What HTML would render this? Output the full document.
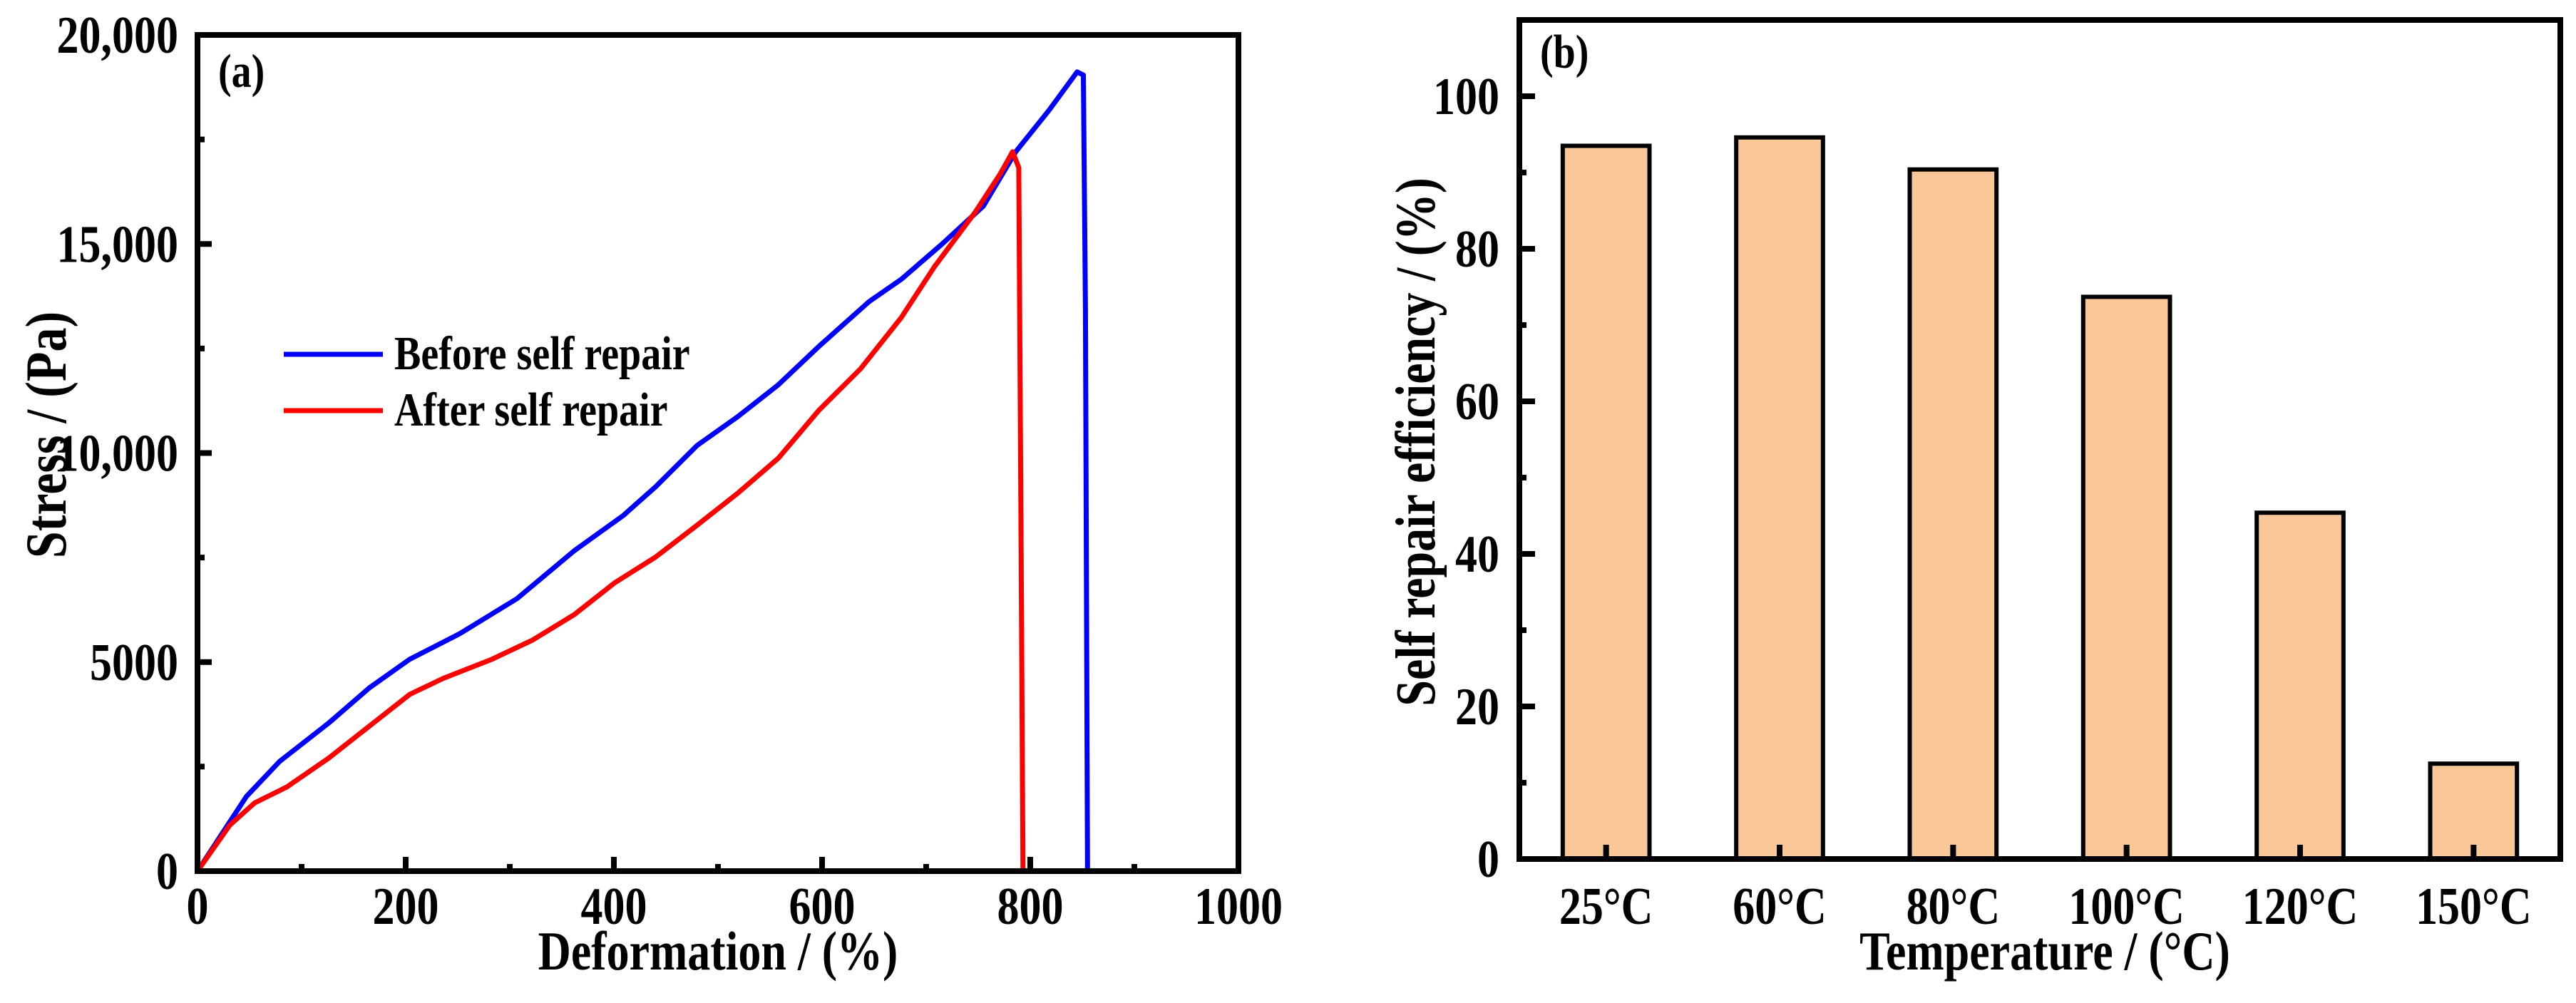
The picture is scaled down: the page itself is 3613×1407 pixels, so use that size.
<!DOCTYPE html>
<html><head><meta charset="utf-8"><style>
html,body{margin:0;padding:0;background:#fff;}
svg text{font-family:"Liberation Serif",serif;font-weight:bold;fill:#000;}
</style></head><body>
<svg id="fig" width="3613" height="1402" viewBox="0 0 3613 1402" xmlns="http://www.w3.org/2000/svg">
<g id="pa"></g>
<g id="pb"></g>
</svg>
<script>
// Panel (a) data
const beforeX = [0,47,79,126,165,204,252,307,362,409,440,480,519,558,597,645,676,715,755,786,818,845,851,853,855];
const beforeY = [0,1786,2626,3542,4382,5069,5679,6519,7664,8504,9190,10183,10870,11634,12550,13618,14153,14992,15908,17206,18198,19115,19040,13466,0];
const afterX = [0,31,55,86,126,165,204,236,283,322,362,401,440,480,519,558,597,637,676,708,747,771,783,789,791,793];
const afterY = [0,1100,1634,2015,2702,3466,4229,4611,5069,5527,6137,6901,7511,8275,9038,9878,11023,12015,13237,14458,15756,16672,17206,16825,8580,0];
const aXTicks = [0,200,400,600,800,1000];
const aXTickLabels = ["0","200","400","600","800","1000"];
const aYTicks = [0,5000,10000,15000,20000];
const aYTickLabels = ["0","5000","10,000","15,000","20,000"];
// Panel (b) data
const categories = ["25°C","60°C","80°C","100°C","120°C","150°C"];
const efficiency = [93.5,94.6,90.4,73.7,45.4,12.5];
const bYTicks = [0,20,40,60,80,100];
const bYTickLabels = ["0","20","40","60","80","100"];

const NS="http://www.w3.org/2000/svg";
const SY=1.2;
function mk(parent,tag,attrs,text){const e=document.createElementNS(NS,tag);for(const k in attrs)e.setAttribute(k,attrs[k]);if(text!==undefined)e.textContent=text;parent.appendChild(e);return e;}
function txt(parent,x,y,size,anchor,s){
 const tr='translate('+x+','+y+') scale(1,'+SY+')';
 return mk(parent,'text',{x:0,y:0,'font-size':size,'text-anchor':anchor,transform:tr},s);
}

// ---------- Panel A ----------
const pa=document.getElementById('pa');
const aL=277,aR=1737,aT=49,aB=1222;
const ax=v=>aL+(v/1000)*(aR-aL);
const ay=v=>aB-(v/20000)*(aB-aT);
function pathFrom(xs,ys){return xs.map((x,i)=>(i?'L':'M')+ax(x).toFixed(1)+' '+ay(ys[i]).toFixed(1)).join(' ');}
let e;
e=mk(pa,'path',{d:pathFrom(beforeX,beforeY),fill:'none',stroke:'#0000ff','stroke-width':7,'stroke-linejoin':'round'});


e=mk(pa,'path',{d:pathFrom(afterX,afterY),fill:'none',stroke:'#ff0000','stroke-width':7,'stroke-linejoin':'round'});


for(let v=0;v<=1000;v+=100){const major=v%200===0;const x=ax(v);
 e=mk(pa,'line',{x1:x,x2:x,y1:aB,y2:aB-(major?20:10),stroke:'#000','stroke-width':8});
 
 }
for(let v=0;v<=20000;v+=2500){const major=v%5000===0;const y=ay(v);
 e=mk(pa,'line',{x1:aL,x2:aL+(major?20:10),y1:y,y2:y,stroke:'#000','stroke-width':8});
 
 }
e=mk(pa,'rect',{x:aL,y:aT,width:aR-aL,height:aB-aT,fill:'none',stroke:'#000','stroke-width':8});


aXTicks.forEach((v,i)=>{e=txt(pa,ax(v),1296,62,'middle',aXTickLabels[i]);
 
 });
aYTicks.forEach((v,i)=>{e=txt(pa,250,ay(v)+25,62,'end',aYTickLabels[i]);
 
 });
e=txt(pa,1007,1360,64,'middle','Deformation / (%)');


e=mk(pa,'text',{x:0,y:0,'font-size':68,'text-anchor':'middle',transform:'translate(92,610) rotate(-90) scale(1,'+SY+')'},'Stress / (Pa)');


e=txt(pa,306,122,56,'start','(a)');


e=mk(pa,'line',{x1:398,x2:537,y1:497,y2:497,stroke:'#0000ff','stroke-width':7});


e=txt(pa,553,518,56,'start','Before self repair');


e=mk(pa,'line',{x1:398,x2:537,y1:576,y2:576,stroke:'#ff0000','stroke-width':7});


e=txt(pa,553,597,56,'start','After self repair');



// ---------- Panel B ----------
const pb=document.getElementById('pb');
const bL=2131,bR=3591,bT=28,bB=1205,bMax=110;
const by=v=>bB-(v/bMax)*(bB-bT);
const band=(bR-bL)/categories.length;
const bx=i=>bL+band*(i+0.5);
const bw=band*0.5;
efficiency.forEach((v,i)=>{
 e=mk(pb,'rect',{x:bx(i)-bw/2,y:by(v),width:bw,height:bB-by(v),fill:'#fac898',stroke:'#000','stroke-width':6});
 
 
});
categories.forEach((c,i)=>{
 e=mk(pb,'line',{x1:bx(i),x2:bx(i),y1:bB,y2:bB-20,stroke:'#000','stroke-width':8});
 
 
 e=txt(pb,bx(i),1296,62,'middle',c);
 
 
});
for(let v=0;v<=110;v+=10){const major=v%20===0;const y=by(v);
 e=mk(pb,'line',{x1:bL,x2:bL+(major?22:10),y1:y,y2:y,stroke:'#000','stroke-width':8});
 
 }
e=mk(pb,'rect',{x:bL,y:bT,width:bR-bL,height:bB-bT,fill:'none',stroke:'#000','stroke-width':8});


bYTicks.forEach((v,i)=>{e=txt(pb,2103,by(v)+25,62,'end',bYTickLabels[i]);
 
 });
e=txt(pb,2868,1360,64,'middle','Temperature / (°C)');


e=mk(pb,'text',{x:0,y:0,'font-size':66,'text-anchor':'middle',transform:'translate(2012,620) rotate(-90) scale(1,'+SY+')'},'Self repair efficiency / (%)');


e=txt(pb,2160,95,56,'start','(b)');


</script>
</body></html>
